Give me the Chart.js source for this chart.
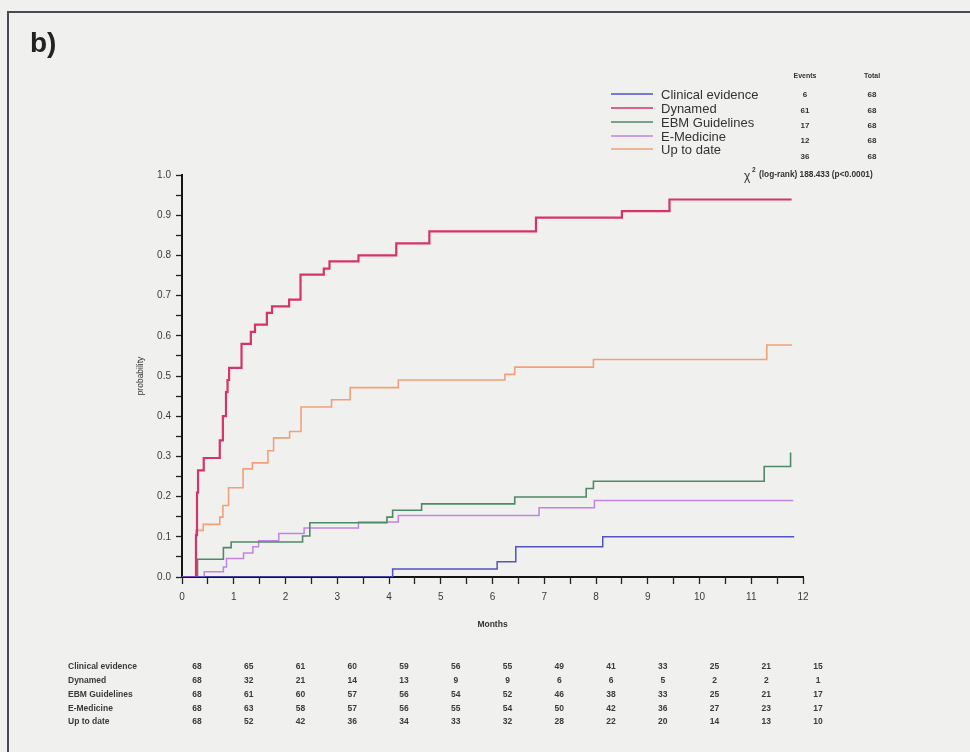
<!DOCTYPE html>
<html>
<head>
<meta charset="utf-8">
<script src="https://cdn.jsdelivr.net/npm/chart.js@4/dist/chart.umd.min.js"></script>
<style>
  body { margin: 0; background: #f0f0ef; }
  canvas { display: block; }
</style>
</head>
<body>
<canvas id="km" width="970" height="752"></canvas>
<script>
// group names, in legend order
const groups = ["Clinical evidence", "Dynamed", "EBM Guidelines", "E-Medicine", "Up to date"];
const events = [6, 61, 17, 12, 36];
const totals = [68, 68, 68, 68, 68];

// step curves: time in months, cumulative probability
const clinicalT = [0, 4.07, 6.09, 6.45, 8.13, 11.83];
const clinicalP = [0, 0.02, 0.038, 0.075, 0.1, 0.1];

const dynamedT = [0, 0.27, 0.29, 0.31, 0.42, 0.73, 0.79, 0.85, 0.88, 0.91, 1.15, 1.33, 1.41, 1.64, 1.74, 2.07, 2.29, 2.74, 2.85, 3.41, 4.14, 4.78, 6.84, 8.5, 9.42, 11.78];
const dynamedP = [0, 0.104, 0.21, 0.265, 0.296, 0.34, 0.40, 0.46, 0.49, 0.52, 0.58, 0.61, 0.628, 0.657, 0.673, 0.69, 0.752, 0.767, 0.785, 0.80, 0.83, 0.86, 0.894, 0.91, 0.939, 0.939];

const ebmT = [0, 0.3, 0.8, 0.95, 2.33, 2.47, 3.96, 4.07, 4.63, 6.43, 7.81, 7.95, 11.25, 11.76];
const ebmP = [0, 0.044, 0.073, 0.087, 0.102, 0.135, 0.149, 0.166, 0.182, 0.199, 0.22, 0.238, 0.275, 0.31];

const emedT = [0, 0.43, 0.8, 0.86, 1.19, 1.37, 1.48, 1.87, 2.36, 3.41, 4.18, 6.9, 7.97, 11.81];
const emedP = [0, 0.013, 0.025, 0.046, 0.06, 0.075, 0.09, 0.108, 0.122, 0.137, 0.153, 0.172, 0.19, 0.19];

const uptodateT = [0, 0.27, 0.41, 0.73, 0.79, 0.9, 1.18, 1.36, 1.66, 1.77, 2.08, 2.3, 2.89, 3.25, 4.18, 6.24, 6.43, 7.95, 11.3, 11.79];
const uptodateP = [0, 0.116, 0.131, 0.149, 0.178, 0.222, 0.269, 0.284, 0.314, 0.346, 0.362, 0.423, 0.441, 0.471, 0.49, 0.504, 0.522, 0.541, 0.577, 0.577];

// numbers at risk, month 0..12
const riskClinical = [68, 65, 61, 60, 59, 56, 55, 49, 41, 33, 25, 21, 15];
const riskDynamed = [68, 32, 21, 14, 13, 9, 9, 6, 6, 5, 2, 2, 1];
const riskEbm = [68, 61, 60, 57, 56, 54, 52, 46, 38, 33, 25, 21, 17];
const riskEmed = [68, 63, 58, 57, 56, 55, 54, 50, 42, 36, 27, 23, 17];
const riskUptodate = [68, 52, 42, 36, 34, 33, 32, 28, 22, 20, 14, 13, 10];

const colors = ["#5252c8", "#d6336a", "#4f8a68", "#c283e6", "#f2a07a"];
const widths = [1.5, 2.2, 1.6, 1.5, 1.6];

const toPoints = (t, p) => t.map((x, i) => ({x: x, y: p[i]}));
const series = [
    toPoints(clinicalT, clinicalP),
    toPoints(dynamedT, dynamedP),
    toPoints(ebmT, ebmP),
    toPoints(emedT, emedP),
    toPoints(uptodateT, uptodateP)
];
const risk = [riskClinical, riskDynamed, riskEbm, riskEmed, riskUptodate];

const FONT = "'Liberation Sans', Arial, sans-serif";

const extras = {
    id: "extras",
    afterDraw: function(chart) {
        const ctx = chart.ctx;
        ctx.save();

        // frame of the scanned figure
        ctx.strokeStyle = "#4a4a52";
        ctx.lineWidth = 2;
        ctx.beginPath();
        ctx.moveTo(970, 12);
        ctx.lineTo(8, 12);
        ctx.lineTo(8, 752);
        ctx.stroke();

        ctx.fillStyle = "#222";
        ctx.font = "bold 28px " + FONT;
        ctx.textBaseline = "alphabetic";
        ctx.fillText("b)", 30, 52);

        // legend
        const legY = [94, 108, 122, 136, 149];
        ctx.textBaseline = "middle";
        groups.forEach((g, i) => {
            ctx.strokeStyle = colors[i];
            ctx.lineWidth = 1.5;
            ctx.beginPath();
            ctx.moveTo(611, legY[i]);
            ctx.lineTo(653, legY[i]);
            ctx.stroke();
            ctx.fillStyle = "#333";
            ctx.font = "13px " + FONT;
            ctx.textAlign = "left";
            ctx.fillText(g, 661, legY[i] + 1);
        });

        // events / total columns
        const evY = [95, 111, 126, 141, 157];
        ctx.font = "bold 7px " + FONT;
        ctx.textAlign = "center";
        ctx.fillStyle = "#333";
        ctx.fillText("Events", 805, 76);
        ctx.fillText("Total", 872, 76);
        ctx.font = "bold 8px " + FONT;
        events.forEach((e, i) => {
            ctx.fillText(String(e), 805, evY[i]);
            ctx.fillText(String(totals[i]), 872, evY[i]);
        });

        // log-rank test
        ctx.textAlign = "left";
        ctx.font = "12px " + FONT;
        ctx.fillText("\u03c7", 744, 177);
        ctx.font = "bold 6.5px " + FONT;
        ctx.fillText("2", 752, 170);
        ctx.font = "bold 8.3px " + FONT;
        ctx.fillText("(log-rank) 188.433 (p<0.0001)", 759, 175);

        // numbers at risk
        const xs = chart.scales.x;
        const rowY = [667, 681, 695, 708.5, 722];
        ctx.font = "bold 8.5px " + FONT;
        ctx.fillStyle = "#3a3a3a";
        groups.forEach((g, r) => {
            ctx.textAlign = "left";
            ctx.fillText(g, 68, rowY[r]);
            ctx.textAlign = "center";
            risk[r].forEach((n, m) => {
                ctx.fillText(String(n), xs.getPixelForValue(m) + 15, rowY[r]);
            });
        });

        ctx.restore();
    }
};

const config = {
    type: "line",
    data: {
        datasets: series.map((pts, i) => ({
            label: groups[i],
            data: pts,
            borderColor: colors[i],
            borderWidth: widths[i],
            stepped: "before",
            pointRadius: 0,
            fill: false
        }))
    },
    options: {
        responsive: false,
        animation: false,
        layout: {
            padding: {left: 132, right: 167, top: 175, bottom: 119}
        },
        plugins: {
            legend: {display: false},
            tooltip: {enabled: false}
        },
        scales: {
            x: {
                type: "linear",
                min: 0,
                max: 12,
                afterFit: (scale) => { scale.height = 56; },
                border: {display: true, color: "#151515", width: 2},
                grid: {drawOnChartArea: false, drawTicks: true, tickLength: 7, tickColor: "#222", tickWidth: 1.3},
                ticks: {
                    stepSize: 0.5,
                    autoSkip: false,
                    maxRotation: 0,
                    padding: 7,
                    color: "#3a3a3a",
                    font: {family: FONT, size: 10},
                    callback: (v) => Number.isInteger(v) ? String(v) : ""
                },
                title: {
                    display: true,
                    text: "Months",
                    color: "#333",
                    font: {family: FONT, size: 8.5, weight: "bold"},
                    padding: {top: 0, bottom: 3}
                }
            },
            y: {
                min: 0,
                max: 1,
                afterFit: (scale) => { scale.width = 50; },
                border: {display: true, color: "#151515", width: 2},
                grid: {drawOnChartArea: false, drawTicks: true, tickLength: 6, tickColor: "#222", tickWidth: 1.3},
                ticks: {
                    stepSize: 0.05,
                    autoSkip: false,
                    padding: 5,
                    color: "#3a3a3a",
                    font: {family: FONT, size: 10},
                    callback: (v) => {
                        const k = Math.round(v * 20);
                        return k % 2 === 0 ? (k / 20).toFixed(1) : "";
                    }
                },
                title: {
                    display: true,
                    text: "probability",
                    color: "#333",
                    font: {family: FONT, size: 8.5},
                    padding: {top: 4, bottom: 0}
                }
            }
        }
    },
    plugins: [extras]
};

const kmChart = new Chart(document.getElementById("km"), config);
</script>
</body>
</html>
